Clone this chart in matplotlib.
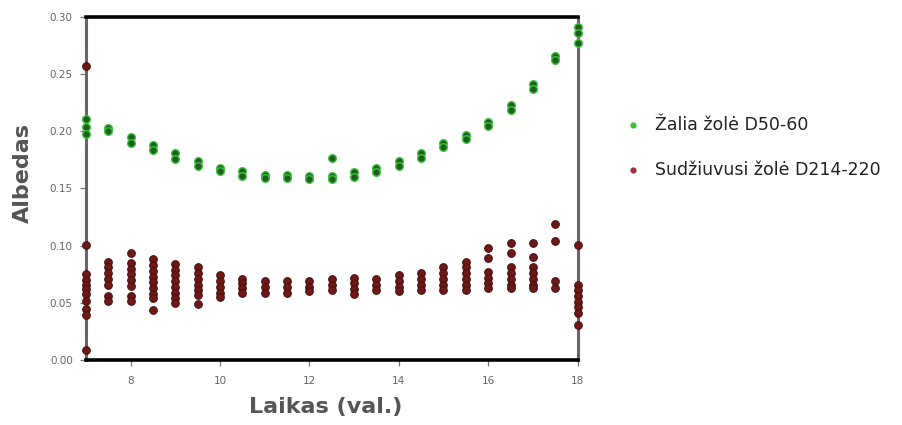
import matplotlib.pyplot as plt

# Hours of the day (x) and albedo readings per hour for each surface
hours = [7, 7.5, 8, 8.5, 9, 9.5, 10, 10.5, 11, 11.5, 12, 12.5,
         13, 13.5, 14, 14.5, 15, 15.5, 16, 16.5, 17, 17.5, 18]

green_vals = [
    [0.211, 0.204, 0.198], [0.203, 0.200], [0.195, 0.190], [0.188, 0.184],
    [0.181, 0.176], [0.174, 0.170], [0.168, 0.165], [0.165, 0.161],
    [0.162, 0.159], [0.162, 0.159], [0.161, 0.158], [0.177, 0.161, 0.158],
    [0.164, 0.160], [0.168, 0.164], [0.174, 0.170], [0.181, 0.177],
    [0.190, 0.186], [0.197, 0.193], [0.208, 0.205], [0.223, 0.219],
    [0.241, 0.237], [0.266, 0.262], [0.291, 0.286, 0.277],
]

dry_vals = [
    [0.257, 0.101, 0.075, 0.070, 0.066, 0.062, 0.058, 0.052, 0.045, 0.039, 0.009],
    [0.086, 0.081, 0.076, 0.071, 0.066, 0.056, 0.052],
    [0.094, 0.085, 0.080, 0.075, 0.070, 0.065, 0.056, 0.052],
    [0.088, 0.083, 0.078, 0.073, 0.068, 0.063, 0.058, 0.054, 0.044],
    [0.084, 0.079, 0.074, 0.069, 0.064, 0.059, 0.054, 0.050],
    [0.081, 0.076, 0.071, 0.066, 0.061, 0.057, 0.049],
    [0.074, 0.069, 0.064, 0.059, 0.055],
    [0.071, 0.067, 0.063, 0.059],
    [0.069, 0.064, 0.059],
    [0.069, 0.064, 0.059],
    [0.069, 0.064, 0.060],
    [0.071, 0.066, 0.061],
    [0.072, 0.067, 0.062, 0.058],
    [0.071, 0.066, 0.061],
    [0.074, 0.069, 0.064, 0.060],
    [0.076, 0.071, 0.066, 0.061],
    [0.081, 0.076, 0.071, 0.066, 0.061],
    [0.086, 0.081, 0.076, 0.071, 0.066, 0.061],
    [0.098, 0.089, 0.077, 0.072, 0.067, 0.063],
    [0.102, 0.094, 0.081, 0.076, 0.071, 0.066, 0.063],
    [0.102, 0.090, 0.081, 0.076, 0.071, 0.066, 0.063],
    [0.119, 0.104, 0.069, 0.063],
    [0.101, 0.066, 0.061, 0.056, 0.051, 0.046, 0.041, 0.031],
]

x_ticks = [8, 10, 12, 14, 16, 18]
y_ticks = [0.00, 0.05, 0.10, 0.15, 0.20, 0.25, 0.30]
labels = ['Žalia žolė D50-60', 'Sudžiuvusi žolė D214-220']

plt.rcParams['font.family'] = ['DejaVu Sans']

fig = plt.figure(figsize=(9.02, 4.25), dpi=100)
ax = fig.add_axes([0.0953, 0.153, 0.545, 0.807])


def flatten(xs, groups):
    px, py = [], []
    for x, g in zip(xs, groups):
        for v in g:
            px.append(x)
            py.append(v)
    return px, py


gx, gy = flatten(hours, green_vals)
dx, dy = flatten(hours, dry_vals)

ax.scatter(dx, dy, s=30, color='#6e1818', edgecolors='#4a1010',
           linewidths=0.8, zorder=3, clip_on=False)
ax.scatter(gx, gy, s=30, color='#1e5e1e', edgecolors='#3cc03c',
           linewidths=1.0, zorder=4, clip_on=False)

ax.set_xlim(7, 18)
ax.set_ylim(0, 0.30)
ax.set_xticks(x_ticks)
ax.set_yticks(y_ticks)
ax.set_yticklabels([f'{v:.2f}' for v in y_ticks])
ax.tick_params(axis='both', direction='out', length=4.5, width=0.9,
               color='#777777', labelsize=7.5, labelcolor='#666666')
ax.tick_params(axis='x', pad=7)
ax.tick_params(axis='y', pad=5)

ax.spines['left'].set_color('#666666')
ax.spines['right'].set_color('#666666')
ax.spines['top'].set_color('black')
ax.spines['bottom'].set_color('black')
for s in ['left', 'right']:
    ax.spines[s].set_linewidth(2.2)
for s in ['top', 'bottom']:
    ax.spines[s].set_linewidth(2.6)

ax.set_ylabel('Albedas', fontsize=16, fontweight='bold', color='#555555')
ax.set_xlabel('Laikas (val.)', fontsize=16, fontweight='bold', color='#555555')
ax.yaxis.set_label_coords(-0.108, 0.545)
ax.xaxis.set_label_coords(0.487, -0.108)

# Legend outside on the right
h1 = ax.scatter([], [], s=12, color='#3cc03c')
h2 = ax.scatter([], [], s=12, color='#a03040')
fig.legend([h1, h2], labels, loc='upper left', bbox_to_anchor=(0.682, 0.728),
           frameon=False, fontsize=12.5, labelcolor='#222222',
           handletextpad=0.3, labelspacing=1.55, borderaxespad=0,
           borderpad=0)

fig.savefig('out.png', dpi=100)
